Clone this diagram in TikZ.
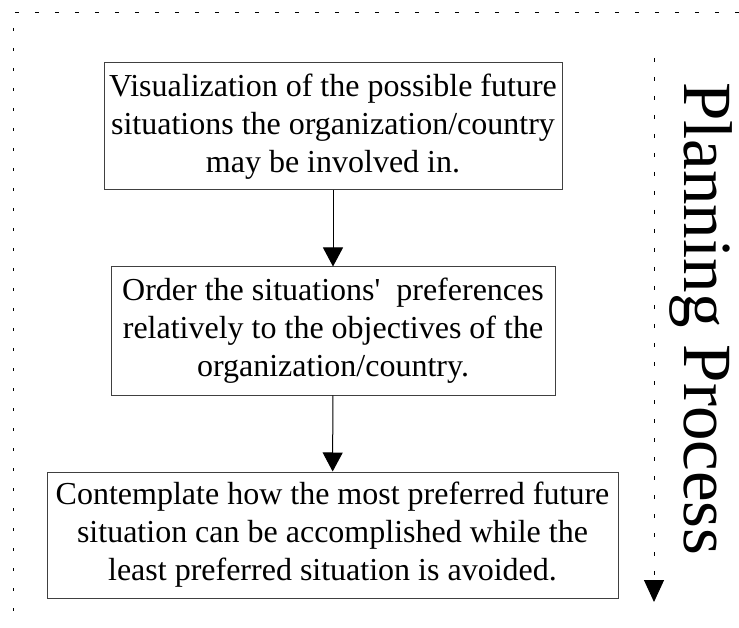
\documentclass[tikz,border=0pt]{standalone}
\usepackage{fontspec}
\setmainfont{Liberation Serif}
\usetikzlibrary{arrows.meta}
\definecolor{boxline}{HTML}{404040}

\begin{document}
\begin{tikzpicture}[x=1pt,y=-1pt,
    stepbox/.style={draw=boxline,line width=1pt,align=center,inner sep=0pt,
      font=\fontsize{32}{38}\selectfont},
    flowarrow/.style={line width=1pt,-{Triangle[width=20pt,length=19pt]}}]
    \useasboundingbox (0,0) rectangle (739,628);
    % frame
    \draw[line width=1pt,dash pattern=on 4pt off 16pt] (15,13)--(739,13);
    \draw[line width=1pt,dash pattern=on 3pt off 17pt] (13,28)--(13,628);
    % steps
    \node[stepbox,minimum width=458pt,minimum height=127pt] (vis) at (333,126.5)
      {Visualization of the possible future\\situations the organization/country\\may be involved in.};
    \node[stepbox,minimum width=444pt,minimum height=128pt] (ord) at (333,331)
      {Order the situations\textquotesingle\ \ preferences\\relatively to the objectives of the\\organization/country.};
    \node[stepbox,minimum width=571pt,minimum height=126pt] (con) at (332.5,535)
      {Contemplate how the most preferred future\\situation can be accomplished while the\\least preferred situation is avoided.};
    \draw[flowarrow] (vis)--(ord);
    \draw[flowarrow] (ord)--(con);
    % process axis
    \coordinate (ptop) at (654,58);
    \coordinate (pend) at (654,602);
    \draw[line width=1pt,dash pattern=on 4pt off 15pt,-{Triangle[width=20pt,length=22pt]}] (ptop)--(pend);
    \node[rotate=-90,anchor=base west,inner sep=0pt,font=\fontsize{69}{80}\selectfont] (proc) at (684,82) {Planning Process};
\end{tikzpicture}
\end{document}
